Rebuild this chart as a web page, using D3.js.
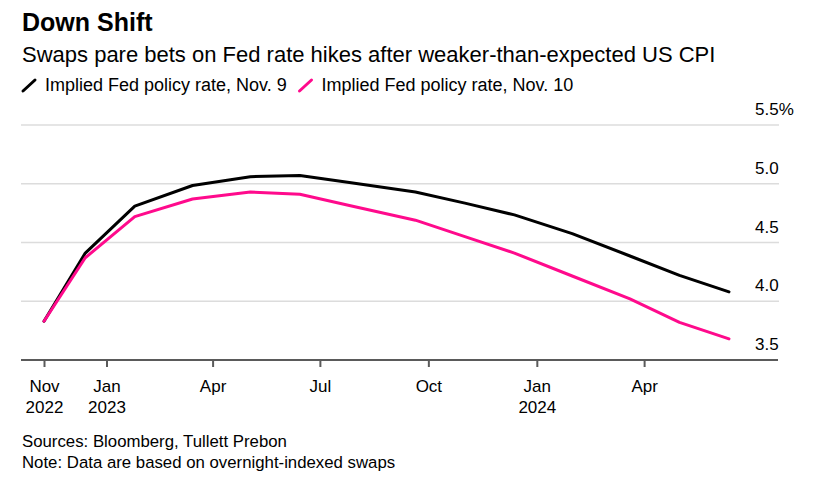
<!DOCTYPE html>
<html>
<head>
<meta charset="utf-8">
<script src="https://cdn.jsdelivr.net/npm/d3@7"></script>
<style>
  body { margin: 0; background: #fff; font-family: "Liberation Sans", Arial, sans-serif; }
  svg text { fill: #000; }
</style>
</head>
<body>
<div id="chart"></div>
<script>
// FOMC-ish dates the swaps curve is sampled at
const dates = ["2022-11-09", "2022-12-14", "2023-01-25", "2023-03-15", "2023-05-03", "2023-06-14",
  "2023-07-26", "2023-09-20", "2023-11-01", "2023-12-13", "2024-01-31", "2024-03-20",
  "2024-05-01", "2024-06-12"];
const nov9 = [3.83, 4.41, 4.81, 4.985, 5.06, 5.07, 5.01, 4.93, 4.835, 4.735, 4.575, 4.385, 4.22, 4.08];
const nov10 = [3.83, 4.37, 4.72, 4.87, 4.93, 4.91, 4.815, 4.69, 4.55, 4.41, 4.215, 4.02, 3.82, 3.68];
const seriesNames = ["Implied Fed policy rate, Nov. 9", "Implied Fed policy rate, Nov. 10"];
const seriesColors = ["#000000", "#ff0a8c"];
const yTicks = [3.5, 4.0, 4.5, 5.0, 5.5];
const xTicks = ["2022-11-09", "2023-01-01", "2023-04-01", "2023-07-01", "2023-10-01", "2024-01-01", "2024-04-01"];
const xTickLabels = [["Nov", "2022"], ["Jan", "2023"], ["Apr"], ["Jul"], ["Oct"], ["Jan", "2024"], ["Apr"]];

const width = 828, height = 482;
const parse = d3.timeParse("%Y-%m-%d");

const svg = d3.select("#chart").append("svg")
  .attr("width", width)
  .attr("height", height);

// Title, subtitle
svg.append("text").attr("x", 22).attr("y", 31)
  .style("font-size", "25px").style("font-weight", "bold")
  .text("Down Shift");
svg.append("text").attr("x", 22).attr("y", 62)
  .style("font-size", "22px")
  .text("Swaps pare bets on Fed rate hikes after weaker-than-expected US CPI");

// Legend
const legendX = [22.5, 299];
seriesNames.forEach((name, i) => {
  const g = svg.append("g").attr("transform", `translate(${legendX[i]},0)`);
  g.append("line")
    .attr("x1", 0.5).attr("y1", 91).attr("x2", 12.5).attr("y2", 80)
    .attr("stroke", seriesColors[i]).attr("stroke-width", 3).attr("stroke-linecap", "round");
  g.append("text").attr("x", 22.5).attr("y", 91)
    .style("font-size", "18px")
    .text(name);
});

// Scales
const x = d3.scaleTime()
  .domain([parse(dates[0]), parse(dates[dates.length - 1])])
  .range([44, 729]);
const y = d3.scaleLinear()
  .domain([3.5, 5.5])
  .range([360, 125]);

const gridLeft = 21, gridRight = 779;

// Gridlines
svg.append("g").selectAll("line")
  .data(yTicks.filter(d => d > 3.5))
  .enter().append("line")
  .attr("x1", gridLeft).attr("x2", gridRight)
  .attr("y1", d => y(d)).attr("y2", d => y(d))
  .attr("stroke", "#dcdcdc").attr("stroke-width", 1.5);

// Y labels (sit above their gridlines)
svg.append("g").selectAll("text")
  .data(yTicks)
  .enter().append("text")
  .attr("x", 755)
  .attr("y", d => y(d) - 10)
  .style("font-size", "17px")
  .text(d => d === 5.5 ? "5.5%" : d.toFixed(1));

// Lines
const line = d3.line()
  .x(d => x(d.date))
  .y(d => y(d.value));

[nov9, nov10].forEach((vals, i) => {
  const pts = dates.map((d, j) => ({ date: parse(d), value: vals[j] }));
  svg.append("path")
    .datum(pts)
    .attr("fill", "none")
    .attr("stroke", seriesColors[i])
    .attr("stroke-width", 3)
    .attr("stroke-linejoin", "round")
    .attr("stroke-linecap", "round")
    .attr("d", line);
});

// X axis
svg.append("line")
  .attr("x1", gridLeft).attr("x2", gridRight - 1)
  .attr("y1", 360).attr("y2", 360)
  .attr("stroke", "#5a5a5a").attr("stroke-width", 2);

const xAxis = svg.append("g")
  .attr("transform", "translate(0,360)")
  .call(d3.axisBottom(x)
    .tickValues(xTicks.map(parse))
    .tickSize(7)
    .tickSizeOuter(0)
    .tickFormat(""));
xAxis.select(".domain").remove();
xAxis.selectAll(".tick line").attr("stroke", "#5a5a5a").attr("stroke-width", 2);

xAxis.selectAll(".tick").each(function (d, i) {
  const t = d3.select(this).append("text")
    .attr("text-anchor", "middle")
    .style("font-size", "17px")
    .style("fill", "#000");
  xTickLabels[i].forEach((s, k) => {
    t.append("tspan").attr("x", 0).attr("y", 31.5 + k * 21.5).text(s);
  });
});

// Footer
svg.append("text").attr("x", 22).attr("y", 447)
  .style("font-size", "16.8px")
  .text("Sources: Bloomberg, Tullett Prebon");
svg.append("text").attr("x", 22).attr("y", 468)
  .style("font-size", "16.8px")
  .text("Note: Data are based on overnight-indexed swaps");
</script>
</body>
</html>
